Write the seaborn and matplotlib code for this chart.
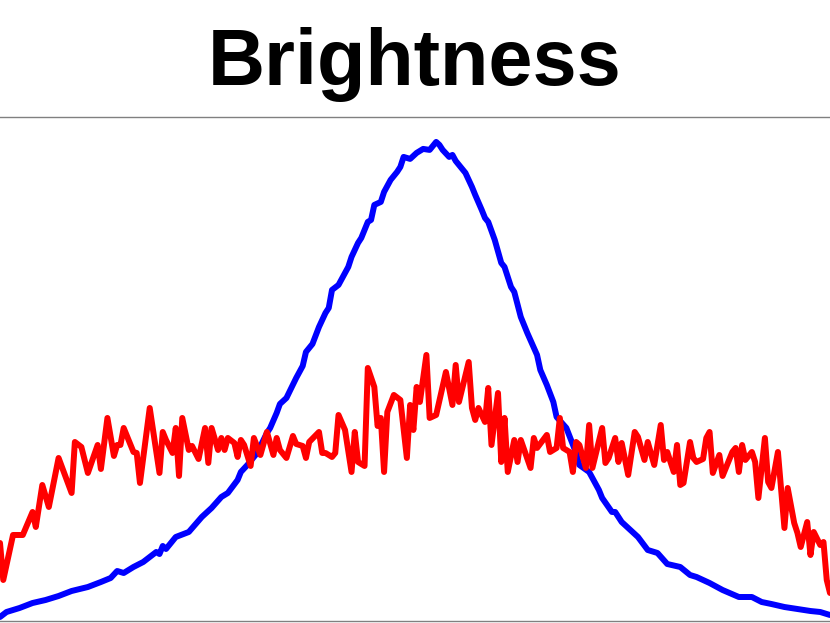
import matplotlib
matplotlib.use("Agg")
import numpy as np
import pandas as pd
import seaborn as sns
import matplotlib.pyplot as plt

# Brillo: nivel (0-255) y conteo
blue_levels = [0, 2, 6, 10, 14, 18, 22, 27, 31, 34, 36, 38, 41, 44, 48, 49, 50, 51, 54, 58,
               62, 65, 68, 70, 73, 74, 76, 79, 82, 83, 85, 86, 88, 91, 93, 94, 96, 98, 100, 101,
               102, 104, 107, 108, 110, 111, 113, 114, 115, 117, 118, 120, 122, 123, 124, 126, 128, 130, 132, 134,
               135, 136, 138, 139, 140, 141, 143, 145, 146, 148, 149, 150, 152, 154, 155, 157, 158, 160, 162, 165,
               166, 168, 170, 171, 174, 177, 178, 181, 184, 185, 188, 189, 191, 193, 196, 199, 201, 202, 205, 209,
               212, 214, 218, 222, 227, 231, 234, 237, 241, 245, 249, 252, 255]
blue_counts = [4, 9, 13, 18, 21, 25, 30, 34, 39, 43, 50, 48, 54, 59, 69, 67, 75, 72, 84, 89,
               104, 113, 124, 128, 141, 149, 156, 168, 188, 193, 208, 217, 223, 243, 255, 269, 277, 294, 308, 313,
               331, 336, 354, 364, 378, 383, 399, 401, 416, 419, 429, 441, 449, 454, 464, 462, 468, 472, 471, 479,
               476, 471, 464, 466, 460, 456, 448, 434, 426, 411, 403, 399, 381, 358, 354, 334, 329, 304, 288, 266,
               251, 236, 219, 204, 193, 168, 156, 149, 131, 123, 109, 109, 99, 93, 84, 71, 69, 68, 57, 54,
               46, 44, 38, 31, 24, 24, 19, 17, 14, 12, 10, 9, 6]

red_levels = [0, 1, 4, 7, 10, 11, 13, 15, 18, 22, 23, 25, 27, 30, 31, 33, 35, 36, 37, 38,
              41, 42, 43, 46, 49, 50, 51, 53, 54, 55, 56, 58, 59, 61, 63, 64, 65, 67, 68, 69,
              70, 72, 73, 74, 75, 77, 78, 80, 82, 84, 85, 86, 88, 90, 91, 93, 94, 95, 98, 99,
              100, 102, 103, 104, 106, 108, 109, 110, 112, 113, 115, 116, 117, 118, 119, 121, 123, 125, 126, 127,
              128, 129, 131, 132, 134, 137, 139, 140, 141, 144, 145, 146, 147, 149, 150, 151, 153, 154, 155, 156,
              158, 159, 160, 163, 164, 165, 168, 169, 171, 172, 173, 175, 176, 177, 178, 180, 181, 182, 185, 186,
              187, 189, 190, 191, 193, 195, 196, 198, 199, 201, 203, 204, 205, 207, 208, 209, 210, 212, 213, 214,
              216, 217, 218, 219, 221, 222, 225, 226, 227, 228, 229, 231, 232, 233, 235, 236, 237, 239, 241, 242,
              244, 245, 246, 248, 249, 250, 252, 253, 254, 255]
red_counts = [78, 41, 86, 86, 109, 94, 136, 114, 163, 128, 179, 174, 148, 176, 152, 203, 165, 176, 176, 193,
              169, 168, 138, 213, 148, 189, 181, 168, 193, 145, 203, 171, 175, 162, 193, 158, 193, 171, 183, 171,
              183, 178, 164, 181, 176, 155, 183, 166, 189, 166, 183, 171, 163, 185, 177, 175, 163, 179, 189, 168,
              168, 164, 168, 206, 191, 149, 189, 159, 155, 253, 234, 195, 203, 149, 209, 226, 221, 163, 216, 191,
              234, 219, 266, 203, 206, 249, 216, 256, 219, 259, 213, 201, 213, 199, 233, 176, 228, 159, 203, 149,
              181, 159, 181, 153, 183, 173, 186, 169, 173, 203, 173, 169, 149, 179, 176, 153, 196, 153, 193, 158,
              163, 183, 159, 178, 146, 189, 184, 161, 179, 156, 196, 161, 169, 149, 176, 136, 138, 179, 163, 159,
              162, 183, 189, 148, 166, 145, 169, 173, 149, 176, 161, 169, 159, 123, 183, 139, 133, 169, 93, 133,
              98, 88, 74, 99, 66, 89, 76, 79, 41, 28]

blue_df = pd.DataFrame({"level": blue_levels, "count": blue_counts})
red_df = pd.DataFrame({"level": red_levels, "count": red_counts})

sns.set_style("white")
plt.rcParams['font.family'] = ['Liberation Sans', 'DejaVu Sans']

fig = plt.figure(figsize=(8.3, 6.23), dpi=100)
ax = fig.add_axes([0, 0.0032, 1, 0.8090])

sns.lineplot(data=blue_df, x="level", y="count", color="#0000ff", linewidth=4.3, ax=ax)
sns.lineplot(data=red_df, x="level", y="count", color="#ff0000", linewidth=4.3, ax=ax)

ax.set_xlim(0, 255)
ax.set_ylim(0, max(blue_counts) * 1.052)
ax.set_xticks([])
ax.set_yticks([])
ax.set_xlabel("")
ax.set_ylabel("")
sns.despine(ax=ax, left=True, right=True, top=False, bottom=False)
for side in ["top", "bottom"]:
    ax.spines[side].set_color("#808080")
    ax.spines[side].set_linewidth(1.0)

fig.text(0.5, 0.8636, "Brightness", ha="center", va="baseline",
         fontsize=57, fontweight="bold", color="black")

plt.savefig("out.png", dpi=100)
